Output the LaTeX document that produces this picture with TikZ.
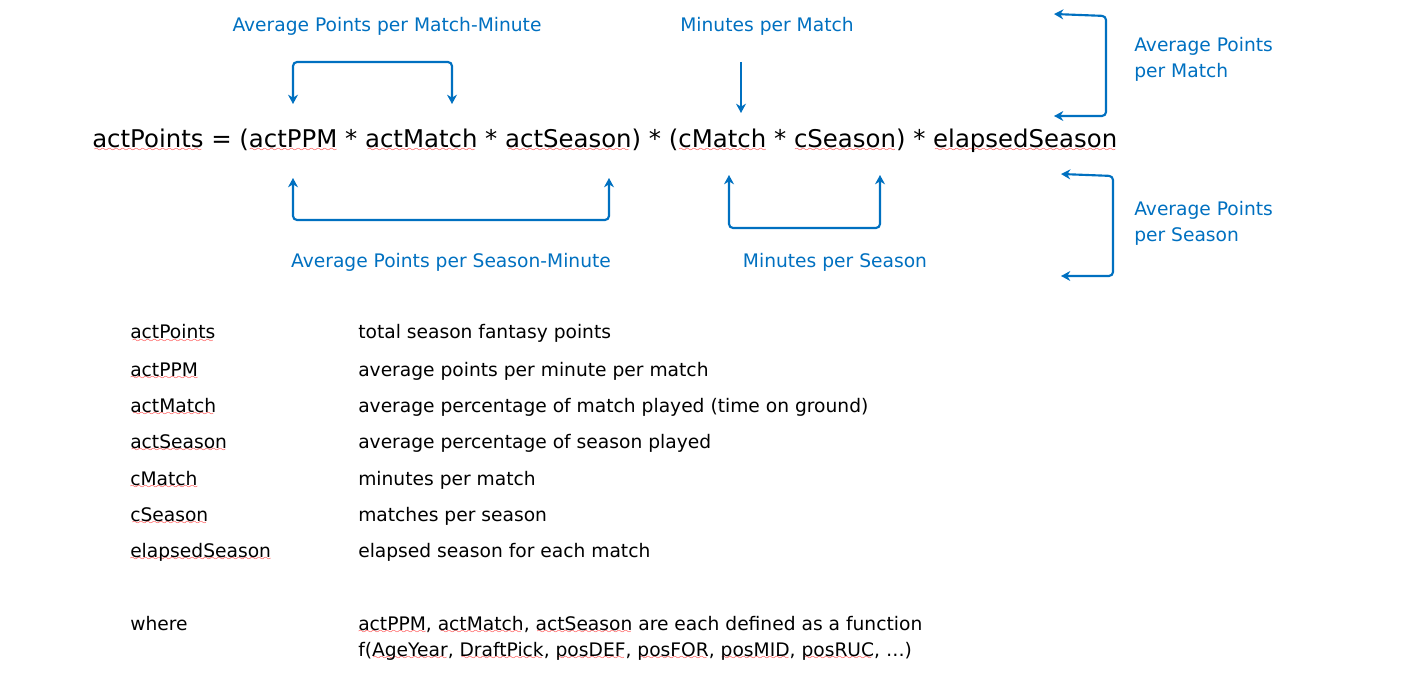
\documentclass[tikz,border=0pt]{standalone}
\usepackage{fontspec}
\setmainfont{DejaVu Sans}
\usetikzlibrary{arrows.meta}
\definecolor{lblue}{RGB}{0,112,192}
\font\wavefont=lasy6
\newcommand\sq[1]{\setbox0\hbox{#1}\rlap{\hbox to \wd0{\cleaders\hbox{\lower2.4pt\hbox{\wavefont\textcolor{red}{\char58}}}\hfill}}\box0\relax}

\begin{document}
\begin{tikzpicture}
  [x=0.75pt,y=-0.75pt,
   eqN/.style={anchor=base west,inner sep=0,font=\fontsize{18.3}{22}\selectfont},
   lblN/.style={anchor=base,inner sep=0,text=lblue,font=\fontsize{14}{19.5}\selectfont},
   sideN/.style={lblN,anchor=base west,align=left},
   keyN/.style={anchor=base west,inner sep=0,font=\fontsize{14}{19.5}\selectfont},
   brk/.style={draw=lblue,line width=1.6pt,rounded corners=3pt},
   tips/.style={{Stealth[length=7pt,width=7.5pt]}-{Stealth[length=7pt,width=7.5pt]}}]

  \useasboundingbox (0,0) rectangle (1414,684);

  % equation
  \node[eqN] (eq) at (92,148) {\sq{actPoints} = (\sq{actPPM} * \sq{actMatch} * \sq{actSeason}) * (\sq{cMatch} * \sq{cSeason}) * \sq{elapsedSeason}};

  % labels
  \node[lblN] (apmm) at (387,32)  {Average Points per Match-Minute};
  \node[lblN] (mpm)  at (767,32)  {Minutes per Match};
  \node[lblN] (apsm) at (451,268) {Average Points per Season-Minute};
  \node[lblN] (mps)  at (835,268) {Minutes per Season};
  \node[sideN] (apm) at (1134,78)  {Average Points\\per Match};
  \node[sideN] (aps) at (1134,242) {Average Points\\per Season};

  \coordinate (apmmL) at (293,104);
  \coordinate (apmmR) at (452,104);
  \coordinate (mpmS)  at (741,62);
  \coordinate (mpmE)  at (741,113);
  \coordinate (apsmL) at (293,178);
  \coordinate (apsmR) at (609,178);
  \coordinate (mpsL)  at (729,175);
  \coordinate (mpsR)  at (880,175);
  \coordinate (apmT)  at (1054,14);
  \coordinate (apmB)  at (1054,116);
  \coordinate (apsT)  at (1061,174);
  \coordinate (apsB)  at (1061,276);

  \draw [brk,tips] (apmmL) -- ++(0,-42) -| (apmmR);
  \draw [brk,-{Stealth[length=7pt,width=7.5pt]}] (mpmS) -- (mpmE);
  \draw [brk,tips] (apsmL) -- ++(0,42) -| (apsmR);
  \draw [brk,tips] (mpsL) -- ++(0,53) -| (mpsR);
  \draw [brk,tips] (apmT) -- ++(52,2) |- (apmB);
  \draw [brk,tips] (apsT) -- ++(52,2) |- (apsB);

  % definitions
  \node[keyN] (kPoints) at (130,339) {\sq{actPoints}};
  \node[keyN] (dPoints) at (358,339) {total season fantasy points};
  \node[keyN] (kPPM)    at (130,376) {\sq{actPPM}};
  \node[keyN] (dPPM)    at (358,376) {average points per minute per match};
  \node[keyN] (kMatch)  at (130,412) {\sq{actMatch}};
  \node[keyN] (dMatch)  at (358,412) {average percentage of match played (time on ground)};
  \node[keyN] (kSeason) at (130,448) {\sq{actSeason}};
  \node[keyN] (dSeason) at (358,448) {average percentage of season played};
  \node[keyN] (kcMatch) at (130,485) {\sq{cMatch}};
  \node[keyN] (dcMatch) at (358,485) {minutes per match};
  \node[keyN] (kcSeason) at (130,521) {\sq{cSeason}};
  \node[keyN] (dcSeason) at (358,521) {matches per season};
  \node[keyN] (kElapsed) at (130,557) {\sq{elapsedSeason}};
  \node[keyN] (dElapsed) at (358,557) {elapsed season for each match};

  \node[keyN] (kWhere) at (130,630) {where};
  \node[keyN,align=left] (dWhere) at (358,656)
    {\sq{actPPM}, \sq{actMatch}, \sq{actSeason} are each defined as a function\\
     f(\sq{AgeYear}, \sq{DraftPick}, \sq{posDEF}, \sq{posFOR}, \sq{posMID}, \sq{posRUC}, \dots)};
\end{tikzpicture}
\end{document}
